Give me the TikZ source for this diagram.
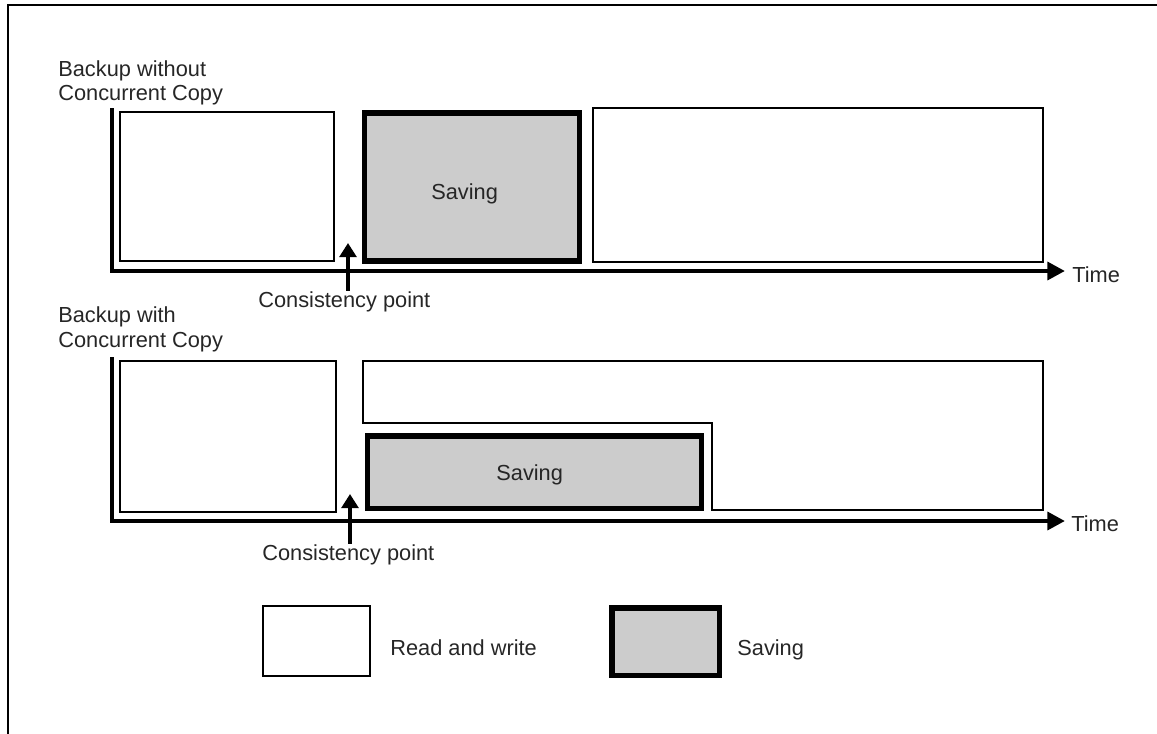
\documentclass[tikz,border=0pt]{standalone}
\usepackage{fontspec}
\setmainfont{Liberation Sans}
\usetikzlibrary{arrows.meta}
\definecolor{savegray}{RGB}{204,204,204}

\begin{document}
\begin{tikzpicture}[x=0.02cm,y=-0.02cm,
  every node/.style={font=\fontsize{12.4}{14}\selectfont,text=black!85,inner sep=0pt,anchor=base west},
  rw/.style={draw,line width=1.1pt},
  sav/.style={draw,line width=3.4pt,fill=savegray},
  axis/.style={line width=2.8pt,-{Triangle[length=10pt,width=10pt]}},
  cparrow/.style={line width=2.2pt,-{Triangle[length=8pt,width=9.5pt]}}]
  \useasboundingbox (0,0) rectangle (1157,734);
  \draw[line width=1.1pt] (8,734) -- (8,5) -- (1157,5);

  % without concurrent copy
  \node (lbl1a) at (58,76) {Backup without};
  \node (lbl1b) at (58,100) {Concurrent Copy};
  \coordinate (o1) at (112,271);
  \coordinate (end1) at (1065,271);
  \draw[axis] (112,108) -- (o1) -- (end1);
  \node (time1) at (1072,282) {Time};
  \draw[rw] (120,112) rectangle (334,261);
  \draw[sav] (364.5,113) rectangle (579.5,261);
  \node (sav1) at (431,199) {Saving};
  \draw[rw] (593,108) rectangle (1043,262);
  \coordinate (tip1) at (348,243);
  \node (cp1) at (258,307) {Consistency point};
  \draw[cparrow] (cp1.north -| tip1) -- (tip1);

  % with concurrent copy
  \node (lbl2a) at (58,322) {Backup with};
  \node (lbl2b) at (58,347) {Concurrent Copy};
  \coordinate (o2) at (112,521);
  \coordinate (end2) at (1065,521);
  \draw[axis] (112,357) -- (o2) -- (end2);
  \node (time2) at (1071,531) {Time};
  \draw[rw] (120,361) rectangle (336,512);
  \draw[rw] (363,361) -- (1043,361) -- (1043,510) -- (712,510) -- (712,423) -- (363,423) -- cycle;
  \draw[sav] (367.5,436) rectangle (701.5,508.5);
  \node (sav2) at (496,480) {Saving};
  \coordinate (tip2) at (350,494);
  \node (cp2) at (262,560) {Consistency point};
  \draw[cparrow] (cp2.north -| tip2) -- (tip2);

  % legend
  \draw[rw] (263,606) rectangle (370,676);
  \node (legrw) at (390,655) {Read and write};
  \draw[sav] (612,608) rectangle (719.5,675.5);
  \node (legsav) at (737,655) {Saving};
\end{tikzpicture}
\end{document}
